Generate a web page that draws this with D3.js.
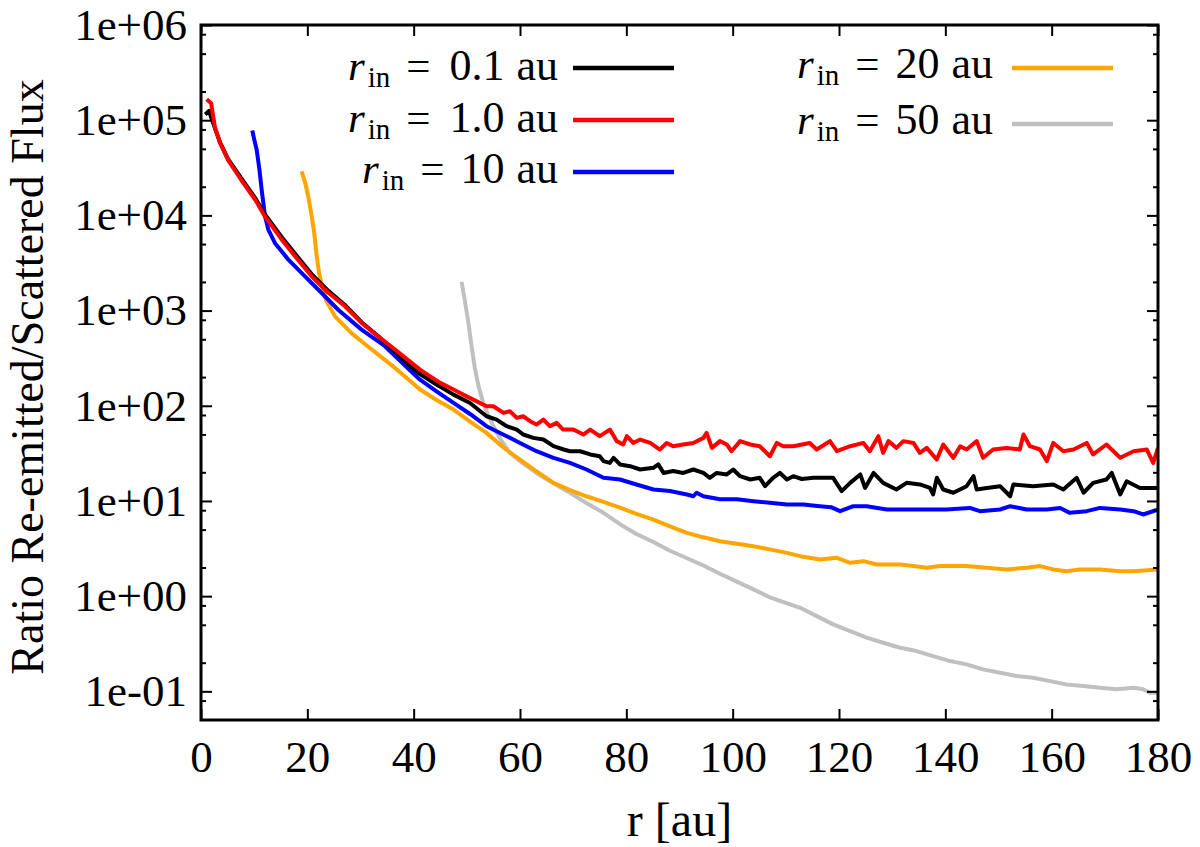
<!DOCTYPE html>
<html>
<head>
<meta charset="utf-8">
<script src="https://cdn.jsdelivr.net/npm/d3@7"></script>
<style>
  body { margin: 0; background: #fff; }
  svg text { font-family: "Liberation Serif", "Times New Roman", serif; fill: #000; }
</style>
</head>
<body>
<div id="chart"></div>
<script>
// Ratio of re-emitted to scattered flux vs radius, one curve per inner radius
const rinLabels = ["0.1", "1.0", "10", "20", "50"];
const seriesColors = ["#000000", "#ff0000", "#0000ff", "#ffa500", "#c0c0c0"];

const xTicks = [0, 20, 40, 60, 80, 100, 120, 140, 160, 180];
const yTicks = [1e-1, 1e0, 1e1, 1e2, 1e3, 1e4, 1e5, 1e6];
const yMinorTicks = [0.08, 0.2, 0.5, 0.8, 2, 5, 8, 20, 50, 80, 200, 500, 800,
  2e3, 5e3, 8e3, 2e4, 5e4, 8e4, 2e5, 5e5, 8e5];

// [r (au), ratio]
const black01 = [[0.8,1.15e5],[1.5,1.25e5],[2.6,8.3e4],[3.6,5.8e4],[5.1,3.9e4],[7.6,2.45e4],[10.2,1.52e4],[12,1.03e4],
  [15.2,5.9e3],[17.7,3.95e3],[20.8,2.42e3],[23.9,1.62e3],[27.1,1.14e3],[30.2,755],[33.3,540],[36.5,372],[39.6,255],
  [41.2,215],[44.3,167],[47.5,131],[50.6,107],[53.7,77.6],[55.6,71.6],[57.5,61.0],[59.4,56.2],[60.6,49.9],[62.5,46.0],
  [64.4,44.2],[66.3,37.6],[68.2,34.7],[69.4,33.3],[71.3,33.3],[73.2,30.8],[75.0,29.5],[75.7,26.2],[76.9,25.1],[77.6,28.4],
  [78.8,24.2],[80.7,23.2],[82.6,21.4],[85.1,22.3],[86.0,24.2],[87.0,19.7],[88.8,20.6],[90.7,19.7],[92.6,21.4],[94.5,19.7],
  [95.7,17.5],[97.0,19.7],[98.9,19.0],[100.1,21.4],[101.4,18.2],[103.3,16.8],[105.1,17.5],[106.1,14.3],[107.6,17.5],
  [108.9,19.7],[110.2,16.8],[111.4,18.2],[113.0,17.0],[115.2,17.5],[118.9,17.5],[120.5,12.7],[122.1,15.5],[124.0,19.0],
  [124.9,13.7],[126.5,19.7],[128.3,15.5],[130.8,13.2],[132.7,15.5],[135.2,14.9],[137.1,13.7],[137.7,11.7],[138.4,17.5],
  [139.6,13.2],[141.5,12.2],[144.0,14.3],[145.3,18.2],[145.9,13.2],[147.8,13.7],[150.3,14.3],[152.2,11.2],[152.8,14.9],
  [156.5,14.3],[160.3,14.9],[162.2,13.2],[164.7,17.5],[166.0,12.2],[167.8,15.5],[170.3,16.8],[171.3,19.7],[172.9,11.7],
  [174.1,16.1],[176.6,13.7],[180,13.7]];

const red10 = [[1.07,1.66e5],[1.9,1.51e5],[2.6,8.5e4],[3.6,5.75e4],[5.1,3.8e4],[7.6,2.34e4],[10.2,1.46e4],[12,9.8e3],
  [15.2,5.56e3],[17.7,3.72e3],[20.8,2.29e3],[23.9,1.55e3],[27.1,1.11e3],[30.2,741],[33.3,537],[36.5,389],[39.6,282],
  [41.2,240],[43.1,204],[45.0,174],[47.5,148],[49.3,131],[51.2,116],[53.7,98.9],[55.0,98.9],[56.9,84.1],[58.1,87.7],
  [59.4,74.6],[60.6,77.6],[61.9,68.9],[63.1,63.5],[64.4,71.6],[65.6,61.0],[66.9,66.1],[68.1,56.2],[70.0,56.2],[70.7,54.1],
  [71.9,49.9],[73.2,56.2],[75.0,47.9],[76.9,56.2],[78.2,42.5],[79.4,39.2],[80.1,47.9],[81.3,40.7],[82.6,44.2],[84.5,40.7],
  [86.3,34.7],[87.6,40.7],[88.8,37.6],[90.7,39.2],[92.6,40.7],[94.5,46.0],[95.1,51.9],[96.1,36.1],[97.6,42.5],[98.9,39.2],
  [99.8,33.3],[101.4,42.5],[103.3,39.2],[105.1,37.6],[107.0,29.5],[108.3,40.7],[109.5,37.6],[111.4,37.6],[114.5,40.7],
  [115.8,34.7],[118.3,42.5],[119.6,33.3],[122.1,37.6],[124.6,40.7],[125.8,33.3],[127.4,47.9],[128.3,32.0],[129.3,42.5],
  [130.8,36.1],[132.1,42.5],[134.0,40.7],[135.2,32.0],[136.5,36.1],[138.4,27.2],[139.6,39.2],[141.5,28.4],[142.8,37.6],
  [144.0,34.7],[145.9,42.5],[147.1,28.4],[149.0,34.7],[151.5,36.1],[154.0,34.7],[154.7,49.9],[155.9,37.6],[157.8,34.7],
  [159.1,26.2],[160.3,40.7],[162.2,33.3],[164.1,34.7],[166.6,40.7],[167.8,30.8],[170.3,39.2],[172.9,28.4],[175.4,33.3],
  [177.9,34.7],[179.1,25.1],[180,36.1]];

const blue10 = [[9.65,7.8e4],[10.0,6.3e4],[10.47,4.9e4],[11.0,3.0e4],[11.41,1.86e4],[12.04,9.8e3],[12.66,7.1e3],
  [13.92,5.1e3],[16.43,3.43e3],[19.56,2.29e3],[22.7,1.53e3],[25.8,1.02e3],[30.2,631],[34.6,422],[39.6,228],[41.2,188],
  [44.3,142],[47.5,107],[50.6,82],[53.7,61.0],[57.5,47.9],[60.0,40.7],[63.1,33.3],[66.3,28.4],[69.4,25.1],[72.5,21.4],
  [75.7,17.5],[78.8,16.8],[81.9,14.9],[85.1,13.2],[88.2,12.7],[91.4,11.7],[92.6,11.2],[93.2,12.2],[94.5,11.2],[97.6,10.4],
  [100.8,10.4],[103.9,9.95],[107.0,9.55],[110.2,9.18],[113.3,9.18],[116.4,8.81],[118.5,8.6],[120.2,7.81],[122.7,8.81],
  [125.2,8.81],[129.0,8.13],[132.7,8.13],[136.5,8.13],[140.2,8.13],[144.6,8.45],[146.5,7.81],[150.3,8.13],[152.2,8.81],
  [155.3,8.13],[159.1,8.13],[161.6,8.45],[163.4,7.50],[166.6,7.81],[169.1,8.45],[172.9,8.13],[175.4,7.81],[177.2,7.21],
  [180,8.13]];

const orange20 = [[18.93,2.9e4],[19.6,2.2e4],[20.2,1.55e4],[20.8,1.0e4],[21.3,6.5e3],[21.7,4.0e3],[22.2,2.5e3],
  [22.8,1.75e3],[23.6,1.25e3],[25.2,870],[28.3,580],[32.1,390],[36.5,250],[41.2,148],[44.3,115],[47.5,91.2],[50.6,68],
  [53.7,51.9],[57.0,36],[60.0,27.2],[63.1,20.5],[66.3,15.5],[69.4,13.0],[72.5,11.2],[75.7,9.8],[78.8,8.5],[81.9,7.3],
  [85.1,6.38],[88.2,5.4],[91.4,4.62],[94.5,4.15],[97.6,3.78],[100.8,3.55],[103.9,3.35],[107.0,3.1],[110.2,2.85],
  [112.7,2.63],[116.4,2.43],[119.6,2.53],[122.1,2.24],[124.6,2.33],[127.1,2.15],[131.5,2.15],[134.0,2.07],[136.5,1.99],
  [139.0,2.07],[144.0,2.07],[147.8,1.99],[151.5,1.91],[155.3,1.99],[157.8,2.07],[160.3,1.91],[162.8,1.83],[165.3,1.91],
  [169.1,1.91],[172.9,1.83],[175.4,1.83],[180,1.91]];

const gray50 = [[49.0,2.0e3],[49.6,1.3e3],[50.3,740],[50.9,420],[51.5,250],[52.2,160],[53.1,107],[54.0,80],[55.0,61.0],
  [56.5,43],[58.1,32.0],[60.5,25],[63.1,19.7],[66.3,15.3],[69.4,12.2],[72.5,9.5],[75.7,7.5],[78.8,5.7],[81.9,4.5],
  [85.1,3.7],[88.2,3.0],[91.4,2.5],[94.5,2.1],[97.6,1.72],[100.8,1.42],[104.0,1.17],[107.0,0.97],[110.0,0.85],
  [112.7,0.755],[115.8,0.617],[118.9,0.505],[122.1,0.43],[125.2,0.366],[128.3,0.324],[131.5,0.287],[134.6,0.265],
  [137.7,0.234],[140.9,0.208],[144.0,0.192],[147.1,0.17],[150.3,0.157],[153.4,0.145],[156.5,0.139],[159.7,0.128],
  [162.8,0.118],[166.0,0.114],[169.1,0.109],[172.2,0.105],[175.4,0.109],[177.2,0.105],[178.5,0.0966],[180,0.0966]];

const allSeries = [black01, red10, blue10, orange20, gray50];
// draw order: gray, orange, blue, black, red on top
const drawOrder = [4, 3, 2, 0, 1];

const W = 1200, H = 847;
const margin = { top: 25, right: 42, bottom: 127, left: 201 };
const width = W - margin.left - margin.right;
const height = H - margin.top - margin.bottom;
const serif = '"Liberation Serif", "Times New Roman", serif';

const svg = d3.select("#chart").append("svg")
  .attr("width", W).attr("height", H);

const g = svg.append("g")
  .attr("transform", `translate(${margin.left},${margin.top})`);

const x = d3.scaleLinear().domain([0, 180]).range([0, width]);
const y = d3.scaleLog().domain([0.05, 1e6]).range([height, 0]);

const expFmt = v => {
  const e = Math.round(Math.log10(v));
  return "1e" + (e < 0 ? "-" : "+") + String(Math.abs(e)).padStart(2, "0");
};

// clip curves to plot area
g.append("clipPath").attr("id", "plot-clip")
  .append("rect").attr("width", width).attr("height", height);

const line = d3.line()
  .x(d => x(d[0]))
  .y(d => y(d[1]));

g.append("g").attr("clip-path", "url(#plot-clip)")
  .selectAll("path")
  .data(drawOrder)
  .join("path")
  .attr("d", i => line(allSeries[i]))
  .attr("fill", "none")
  .attr("stroke", i => seriesColors[i])
  .attr("stroke-width", 4)
  .attr("stroke-linejoin", "round");

// axes (ticks point inward, on all four sides)
function styleAxis(sel) {
  sel.attr("font-family", serif).attr("font-size", 45);
  sel.select(".domain").remove();
  sel.selectAll(".tick line").attr("stroke", "#000").attr("stroke-width", 2);
}

g.append("g")
  .attr("transform", `translate(0,${height})`)
  .call(d3.axisBottom(x).tickValues(xTicks).tickSize(-11).tickSizeOuter(0).tickPadding(20))
  .call(styleAxis);

g.append("g")
  .call(d3.axisTop(x).tickValues(xTicks).tickSize(-11).tickSizeOuter(0).tickFormat(""))
  .call(styleAxis);

g.append("g")
  .call(d3.axisLeft(y).tickValues(yTicks).tickSize(-11).tickSizeOuter(0).tickPadding(14).tickFormat(expFmt))
  .call(styleAxis);

g.append("g")
  .call(d3.axisLeft(y).tickValues(yMinorTicks).tickSize(-5).tickSizeOuter(0).tickFormat(""))
  .call(styleAxis);

g.append("g")
  .attr("transform", `translate(${width},0)`)
  .call(d3.axisRight(y).tickValues(yTicks).tickSize(-11).tickSizeOuter(0).tickFormat(""))
  .call(styleAxis);

g.append("g")
  .attr("transform", `translate(${width},0)`)
  .call(d3.axisRight(y).tickValues(yMinorTicks).tickSize(-5).tickSizeOuter(0).tickFormat(""))
  .call(styleAxis);

// frame
g.append("rect")
  .attr("width", width).attr("height", height)
  .attr("fill", "none").attr("stroke", "#000").attr("stroke-width", 3);

// axis titles
svg.append("text")
  .attr("x", margin.left + width / 2)
  .attr("y", 836)
  .attr("text-anchor", "middle")
  .style("font-size", "48px")
  .text("r [au]");

svg.append("text")
  .attr("transform", `translate(43,377) rotate(-90)`)
  .attr("text-anchor", "middle")
  .style("font-size", "46px")
  .text("Ratio Re-emitted/Scattered Flux");

// legend: two columns; "r_in =" starts at sx, "value au" ends at tx, then a line sample
const legendPos = [
  { sx: 348, tx: 558, ly: 68, base: 12, lx: 573 },
  { sx: 348, tx: 558, ly: 120, base: 12, lx: 573 },
  { sx: 362, tx: 558, ly: 172, base: 11, lx: 573 },
  { sx: 797, tx: 993, ly: 68, base: 10, lx: 1012 },
  { sx: 797, tx: 993, ly: 124, base: 10, lx: 1012 }
];

const legend = svg.append("g").attr("class", "legend");
rinLabels.forEach((lab, i) => {
  const p = legendPos[i];
  const left = legend.append("text")
    .attr("x", p.sx)
    .attr("y", p.ly + p.base)
    .style("font-size", "43px");
  left.append("tspan").style("font-style", "italic").text("r");
  left.append("tspan").attr("dx", 3).attr("dy", 7).style("font-size", "29px").text("in");
  left.append("tspan").attr("dx", 16).attr("dy", -7).text("=");

  const right = legend.append("text")
    .attr("x", p.tx)
    .attr("y", p.ly + p.base)
    .attr("text-anchor", "end")
    .style("font-size", "44px");
  right.append("tspan").text(lab);
  right.append("tspan").attr("dx", 12).text("au");

  legend.append("line")
    .attr("x1", p.lx).attr("x2", p.lx + 101)
    .attr("y1", p.ly).attr("y2", p.ly)
    .attr("stroke", seriesColors[i])
    .attr("stroke-width", 4.5);
});
</script>
</body>
</html>
